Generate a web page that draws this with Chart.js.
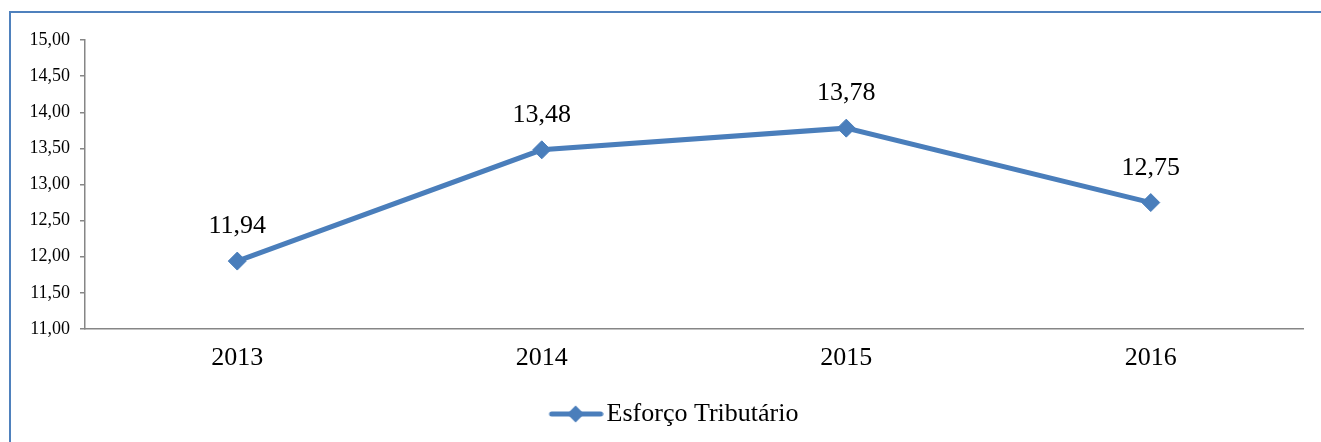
<!DOCTYPE html>
<html>
<head>
<meta charset="utf-8">
<script src="https://cdn.jsdelivr.net/npm/chart.js@4/dist/chart.umd.min.js"></script>
<style>
  html, body { margin: 0; background: #fff; overflow: hidden; width: 1321px; height: 442px; }
  #frame { position: absolute; left: 9px; top: 11px; width: 1400px; height: 500px;
           border-left: 2px solid #4F81BD; border-top: 2px solid #4F81BD; }
  canvas { position: absolute; left: 0; top: 0; }
</style>
</head>
<body>
<div id="frame"></div>
<canvas id="chart" width="1321" height="442"></canvas>
<script>
// Data
const years = ["2013", "2014", "2015", "2016"];
const esforco = [11.94, 13.48, 13.78, 12.75];
const seriesName = "Esforço Tributário";

const lineColor = "#4A7EBB";
const axisColor = "#868686";
const fontFamily = "'Liberation Serif', 'Times New Roman', serif";

// Number with comma decimal, like "13,48"
const fmt = v => Number(v).toFixed(2).replace(".", ",");

// Legend icon: line with a diamond, drawn in the right part of a wider canvas
// so that the legend item sits where it does in the original
const iconBox = 89;
const icon = document.createElement("canvas");
icon.width = iconBox + 20;
icon.height = 20;
(function () {
  let c = icon.getContext("2d");
  let x0 = icon.width - 55;
  c.strokeStyle = lineColor;
  c.lineWidth = 5;
  c.lineCap = "round";
  c.beginPath();
  c.moveTo(x0 + 3, 10);
  c.lineTo(x0 + 52, 10);
  c.stroke();
  c.fillStyle = lineColor;
  let cx = x0 + 27;
  c.beginPath();
  c.moveTo(cx - 8.5, 10);
  c.lineTo(cx, 10 - 8.5);
  c.lineTo(cx + 8.5, 10);
  c.lineTo(cx, 10 + 8.5);
  c.closePath();
  c.fill();
})();

// Values above each point
const valueLabels = {
  id: "valueLabels",
  afterDatasetsDraw(chart) {
    let ctx = chart.ctx;
    let meta = chart.getDatasetMeta(0);
    ctx.save();
    ctx.font = "26px " + fontFamily;
    ctx.fillStyle = "#000";
    ctx.textAlign = "center";
    ctx.textBaseline = "alphabetic";
    meta.data.forEach((pt, i) => {
      ctx.fillText(fmt(chart.data.datasets[0].data[i]), pt.x, pt.y - 28);
    });
    ctx.restore();
  }
};

new Chart(document.getElementById("chart"), {
  type: "line",
  data: {
    labels: years,
    datasets: [{
      label: seriesName,
      data: esforco,
      borderColor: lineColor,
      backgroundColor: lineColor,
      borderWidth: 5,
      pointStyle: "rectRot",
      pointRadius: 9,
      pointBorderWidth: 1,
      pointBorderColor: lineColor,
      pointBackgroundColor: lineColor,
      tension: 0
    }]
  },
  options: {
    responsive: false,
    animation: false,
    layout: { padding: { left: 0, right: 18, top: 40, bottom: 5 } },
    plugins: {
      tooltip: { enabled: false },
      legend: {
        position: "bottom",
        labels: {
          usePointStyle: true,
          pointStyleWidth: iconBox,
          padding: 5,
          color: "#000",
          font: { family: fontFamily, size: 26 },
          generateLabels: chart => [{
            text: seriesName,
            pointStyle: icon,
            fillStyle: lineColor,
            strokeStyle: lineColor,
            lineWidth: 0,
            datasetIndex: 0
          }]
        }
      }
    },
    scales: {
      x: {
        offset: true,
        afterFit: scale => { scale.height = 67; },
        grid: { display: true, drawOnChartArea: false, drawTicks: false },
        border: { display: true, color: axisColor, width: 1.5 },
        ticks: { color: "#000", padding: 14, font: { family: fontFamily, size: 26 } }
      },
      y: {
        min: 11,
        max: 15,
        afterFit: scale => { scale.width = 85; },
        grid: { display: true, drawOnChartArea: false, drawTicks: true, tickLength: 5, color: axisColor, lineWidth: 1.5 },
        border: { display: true, color: axisColor, width: 1.5 },
        ticks: {
          stepSize: 0.5,
          padding: 10,
          color: "#000",
          font: { family: fontFamily, size: 18 },
          callback: v => fmt(v)
        }
      }
    }
  },
  plugins: [valueLabels]
});
</script>
</body>
</html>
